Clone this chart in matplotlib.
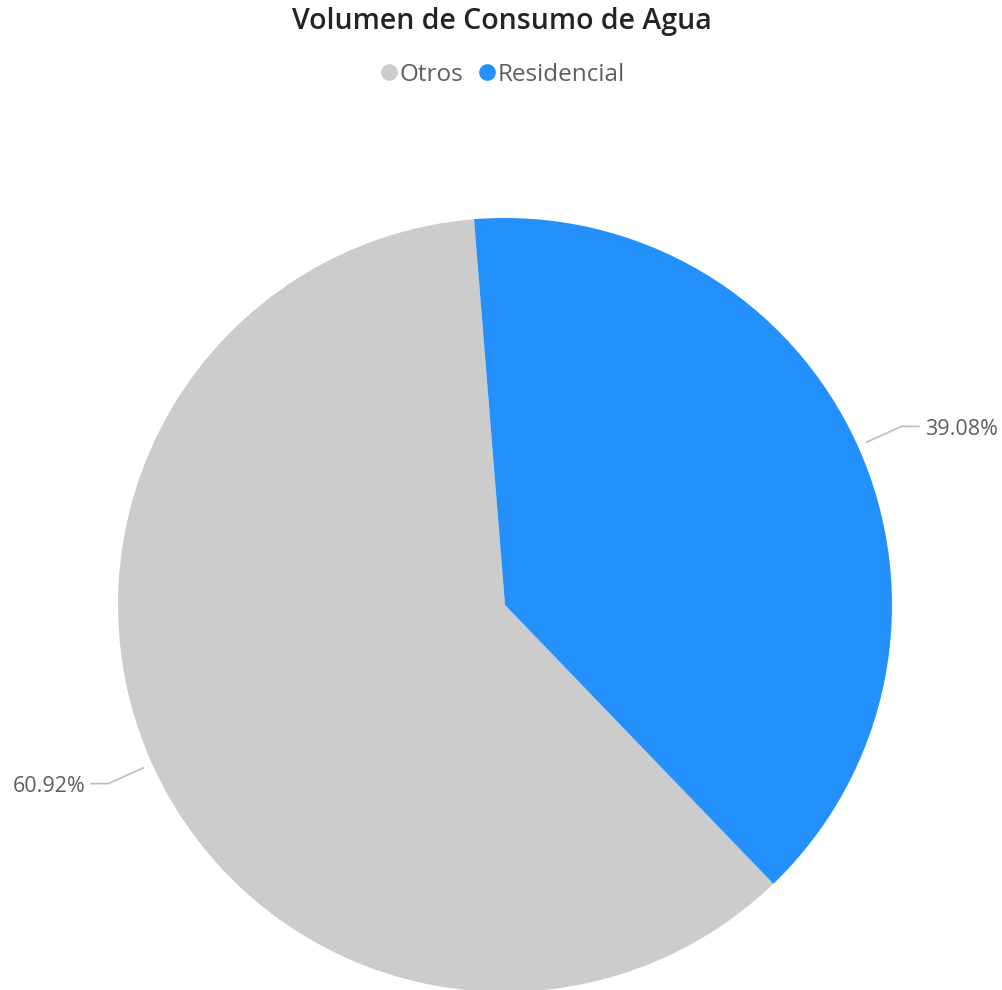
import numpy as np
import matplotlib
matplotlib.use("Agg")
import matplotlib.pyplot as plt
from matplotlib.lines import Line2D

categories = ["Otros", "Residencial"]
values = [60.92, 39.08]
colors = ["#CCCCCC", "#2490FB"]
title = "Volumen de Consumo de Agua"

plt.rcParams['font.family'] = ['Open Sans', 'DejaVu Sans']

W, H = 1003, 990
fig = plt.figure(figsize=(W / 100, H / 100), dpi=100)
ax = fig.add_axes([0, 0, 1, 1])

cx, cy, R = 505, H - 605, 387
start = -46.1
wedges, _ = ax.pie(values, colors=colors, startangle=start, counterclock=False,
                   center=(cx, cy), radius=R, frame=True,
                   wedgeprops=dict(linewidth=0))
ax.set_xlim(0, W)
ax.set_ylim(0, H)
ax.axis('off')

label_color = "#605E5C"
line_color = "#BDBDBD"
for w, v in zip(wedges, values):
    mid = np.deg2rad((w.theta1 + w.theta2) / 2)
    x0, y0 = cx + 1.023 * R * np.cos(mid), cy + 1.023 * R * np.sin(mid)
    x1, y1 = cx + 1.124 * R * np.cos(mid), cy + 1.124 * R * np.sin(mid)
    sgn = 1 if np.cos(mid) > 0 else -1
    x2 = x1 + sgn * 18
    ax.plot([x0, x1, x2], [y0, y1, y1], color=line_color, lw=1.2, solid_capstyle='butt')
    ax.text(x2 + sgn * 5, y1 - 3, f"{v:.2f}%", ha='left' if sgn > 0 else 'right',
            va='center', fontsize=15.5, color=label_color)

fig.text(0.5, 1 - 22 / H, title, ha='center', va='center', fontsize=20.5,
         color="#252423", fontweight='semibold')

handles = [Line2D([0], [0], marker='o', linestyle='', markersize=11,
                  markerfacecolor=c, markeredgecolor=c) for c in colors]
fig.legend(handles, categories, loc='center', bbox_to_anchor=(0.5, 1 - 75 / H),
           ncol=2, frameon=False, fontsize=17.5, handletextpad=0.0,
           columnspacing=0.5, labelcolor=label_color, handlelength=0.9)

fig.savefig("out.png", dpi=100, facecolor='white')
